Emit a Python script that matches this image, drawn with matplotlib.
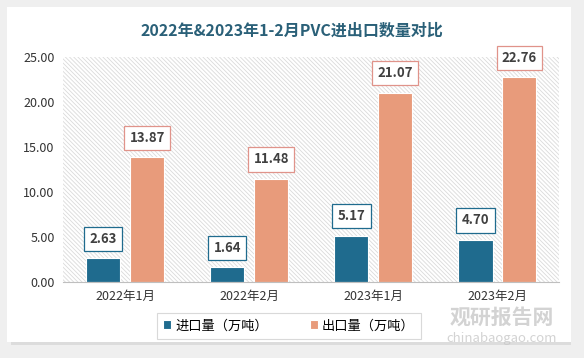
import numpy as np
import matplotlib as mpt
from matplotlib import pyplot as plt
from matplotlib.patches import Rectangle, FancyBboxPatch

mpt.use('Agg')
plt.rcParams['font.family'] = ['Noto Sans CJK SC', 'DejaVu Sans']
plt.rcParams['axes.unicode_minus'] = False

months = ['2022年1月', '2022年2月', '2023年1月', '2023年2月']
imports = [2.63, 1.64, 5.17, 4.70]
exports = [13.87, 11.48, 21.07, 22.76]

blue = '#1f6b8e'
orange = '#e89b7b'

fig = plt.figure(figsize=(5.84, 3.58), dpi=100)
fig.patch.set_facecolor('#efefef')

# 白色卡片 + 阴影
fig.patches.append(FancyBboxPatch((0.018, 0.035), 0.96, 0.94, boxstyle='square,pad=0',
                                  transform=fig.transFigure, facecolor='#dcdcdc',
                                  edgecolor='none', zorder=-2))
fig.patches.append(FancyBboxPatch((0.012, 0.045), 0.965, 0.935, boxstyle='square,pad=0',
                                  transform=fig.transFigure, facecolor='white',
                                  edgecolor='none', zorder=-1))

ax = fig.add_axes([0.108, 0.212, 0.85, 0.628])
ax.set_facecolor('none')
x = np.arange(len(months))
w = 0.275
off = 0.177

# 斜线背景
plt.rcParams['hatch.linewidth'] = 0.6
bg = Rectangle((-0.5, 0), 4, 25, facecolor='white', edgecolor='#dadada',
               hatch='\\\\\\\\\\\\\\\\', linewidth=0, zorder=0)
ax.add_patch(bg)

b1 = ax.bar(x - off, imports, width=w, color=blue, edgecolor='white', linewidth=0.8,
            zorder=3, label='进口量（万吨）')
b2 = ax.bar(x + off, exports, width=w, color=orange, edgecolor='white', linewidth=0.8,
            zorder=3, label='出口量（万吨）')

for bars, vals, ec in [(b1, imports, blue), (b2, exports, '#e0938a')]:
    for r, v in zip(bars, vals):
        ax.annotate('%.2f' % v, (r.get_x() + r.get_width() / 2, v),
                    xytext=(0, 9), textcoords='offset points', ha='center', va='bottom',
                    fontsize=9.5, fontweight='bold', color='#404040', zorder=5,
                    bbox=dict(boxstyle='square,pad=0.4', facecolor='white', edgecolor=ec,
                              linewidth=0.9))

ax.set_xlim(-0.5, 3.5)
ax.set_ylim(0, 25)
ax.set_yticks(np.arange(0, 26, 5))
ax.set_yticklabels(['%.2f' % t for t in np.arange(0, 26, 5)], fontsize=9, color='#333333')
ax.set_xticks(x)
ax.set_xticklabels(months, fontsize=9, color='#333333')
ax.tick_params(length=0, pad=6)
for s in ['top', 'right', 'left']:
    ax.spines[s].set_visible(False)
ax.spines['bottom'].set_color('#bfbfbf')
ax.spines['bottom'].set_zorder(4)

fig.text(0.5, 0.915, '2022年&2023年1-2月PVC进出口数量对比', ha='center', va='center',
         fontsize=11.5, fontweight='bold', color='#2a6078')

leg = fig.legend(loc='center', bbox_to_anchor=(0.495, 0.09), ncol=2, frameon=True,
                 fontsize=9.5, handlelength=0.6, handleheight=0.6, columnspacing=3.2,
                 handletextpad=0.3, fancybox=False, borderpad=0.5, borderaxespad=0)
leg.get_frame().set_edgecolor('#d0d0d0')
leg.get_frame().set_linewidth(0.8)

# 水印
fig.text(0.77, 0.115, '观研报告网', fontsize=15, fontweight='bold', color='#c8c8c8', alpha=0.8,
         ha='left', va='center', zorder=10)
fig.text(0.765, 0.055, 'chinabaogao.com', fontsize=9.5, color='#c8c8c8', alpha=0.8,
         ha='left', va='center', zorder=10)

fig.savefig('out.png', dpi=100)
